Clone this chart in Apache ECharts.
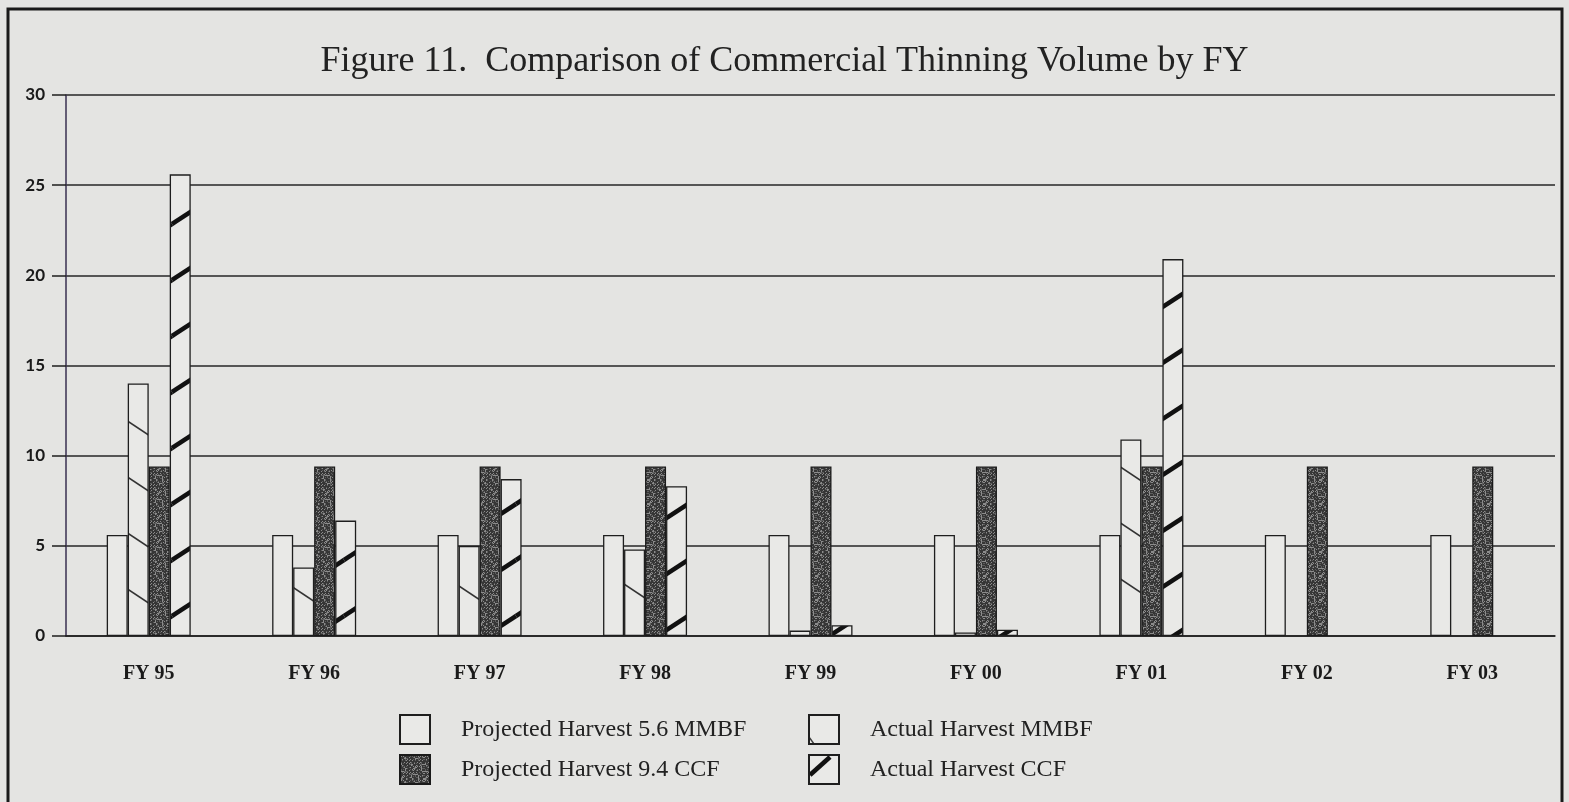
<!DOCTYPE html>
<html>
<head>
<meta charset="utf-8">
<script src="https://cdn.jsdelivr.net/npm/echarts@6/dist/echarts.min.js"></script>
<style>
  html, body { margin: 0; padding: 0; background: #e4e4e2; }
  #app { width: 1569px; height: 802px; }
</style>
</head>
<body>
<div id="app"></div>
<script>
const years = ['FY 95', 'FY 96', 'FY 97', 'FY 98', 'FY 99', 'FY 00', 'FY 01', 'FY 02', 'FY 03']
const projectedMMBF = [5.6, 5.6, 5.6, 5.6, 5.6, 5.6, 5.6, 5.6, 5.6]
const actualMMBF = [14.0, 3.8, 5.0, 4.8, 0.3, 0.2, 10.9, null, null]
const projectedCCF = [9.4, 9.4, 9.4, 9.4, 9.4, 9.4, 9.4, 9.4, 9.4]
const actualCCF = [25.6, 6.4, 8.7, 8.3, 0.6, 0.35, 20.9, null, null]
const yTicks = [0, 5, 10, 15, 20, 25, 30]

const paper = '#e9e9e7'
const ink = '#1e1e1e'

// diagonal hatch tile, dir 1 = "/" , dir -1 = "\"
function hatch(w, h, lw, dir, col) {
  const c = document.createElement('canvas')
  c.width = w
  c.height = h
  const g = c.getContext('2d')
  g.fillStyle = paper
  g.fillRect(0, 0, w, h)
  g.strokeStyle = col
  g.lineWidth = lw
  for (const dx of [-w, 0, w]) {
    for (const dy of [-h, 0, h]) {
      g.beginPath()
      if (dir > 0) {
        g.moveTo(dx, dy + h)
        g.lineTo(dx + w, dy)
      } else {
        g.moveTo(dx, dy)
        g.lineTo(dx + w, dy + h)
      }
      g.stroke()
    }
  }
  return c
}

// legend swatches: one stroke only
function swatch(x1, y1, x2, y2, lw, col) {
  const c = document.createElement('canvas')
  c.width = 30
  c.height = 29
  const g = c.getContext('2d')
  g.fillStyle = paper
  g.fillRect(0, 0, 30, 29)
  g.strokeStyle = col
  g.lineWidth = lw
  g.beginPath()
  g.moveTo(x1, y1)
  g.lineTo(x2, y2)
  g.stroke()
  return c
}

// dark speckled fill
function stipple() {
  const c = document.createElement('canvas')
  c.width = 24
  c.height = 24
  const g = c.getContext('2d')
  g.fillStyle = '#363636'
  g.fillRect(0, 0, 24, 24)
  for (let y = 0; y < 24; y++) {
    for (let x = 0; x < 24; x++) {
      const v = (x * 73 + y * 151 + x * y * 7) % 23
      if (v < 5) g.fillStyle = '#8c8c8c'
      else if (v < 9) g.fillStyle = '#5e5e5e'
      else continue
      g.fillRect(x, y, 1, 1)
    }
  }
  return c
}

const serif = '"Liberation Serif", "Times New Roman", serif'

const barBase = {
  type: 'bar',
  barWidth: 21,
  barGap: '0%',
  animation: false
}

const legendBase = {
  top: 714,
  padding: 0,
  orient: 'vertical',
  itemWidth: 30,
  itemHeight: 29,
  itemGap: 9,
  icon: 'rect',
  textStyle: { fontFamily: serif, fontSize: 24, color: '#222', padding: [0, 0, 0, 26] }
}

const chart = echarts.init(document.getElementById('app'))

chart.setOption({
  backgroundColor: '#e4e4e2',
  title: {
    text: 'Figure 11.  Comparison of Commercial Thinning Volume by FY',
    left: 'center',
    top: 39,
    textStyle: {
      fontFamily: serif,
      fontSize: 36,
      fontWeight: 'normal',
      color: '#222'
    }
  },
  grid: {
    left: 66,
    right: 14,
    top: 95,
    bottom: 166
  },
  xAxis: {
    type: 'category',
    data: years,
    axisLine: { lineStyle: { color: ink, width: 1.5 } },
    axisTick: { alignWithLabel: true, length: 13, lineStyle: { color: ink, width: 1.3 } },
    axisLabel: {
      margin: 28,
      fontFamily: serif,
      fontWeight: 'bold',
      fontSize: 20,
      color: '#1a1a1a'
    }
  },
  yAxis: {
    type: 'value',
    min: yTicks[0],
    max: yTicks[yTicks.length - 1],
    interval: 5,
    axisLine: { show: true, lineStyle: { color: '#3a3050', width: 1.5 } },
    axisTick: { show: true, length: 14, lineStyle: { color: ink, width: 1.5 } },
    axisLabel: {
      margin: 21,
      fontFamily: 'Lato, sans-serif',
      fontWeight: 'bold',
      fontSize: 17,
      color: '#1a1a1a'
    },
    splitLine: { lineStyle: { color: '#262626', width: 1.5 } }
  },
  legend: [
    {
      ...legendBase,
      left: 399,
      data: ['Projected Harvest 5.6 MMBF', 'Projected Harvest 9.4 CCF']
    },
    {
      ...legendBase,
      left: 808,
      data: [
        {
          name: 'Actual Harvest MMBF',
          itemStyle: { color: { image: swatch(0, 22, 5, 29, 1.4, '#3a3a3a'), repeat: 'no-repeat' } }
        },
        {
          name: 'Actual Harvest CCF',
          itemStyle: { color: { image: swatch(1, 20, 21, 2, 4.5, '#111'), repeat: 'no-repeat' } }
        }
      ]
    }
  ],
  graphic: [
    {
      type: 'rect',
      silent: true,
      shape: { x: 8, y: 9, width: 1554, height: 900 },
      style: { fill: 'none', stroke: '#1a1a1a', lineWidth: 3 }
    }
  ],
  series: [
    {
      ...barBase,
      name: 'Projected Harvest 5.6 MMBF',
      data: projectedMMBF,
      itemStyle: { color: paper, borderColor: ink, borderWidth: 1.3 }
    },
    {
      ...barBase,
      name: 'Actual Harvest MMBF',
      data: actualMMBF,
      itemStyle: {
        color: { image: hatch(84, 56, 1.6, -1, '#333'), repeat: 'repeat' },
        borderColor: ink,
        borderWidth: 1.3
      }
    },
    {
      ...barBase,
      name: 'Projected Harvest 9.4 CCF',
      data: projectedCCF,
      itemStyle: {
        color: { image: stipple(), repeat: 'repeat' },
        borderColor: '#1a1a1a',
        borderWidth: 1.3
      }
    },
    {
      ...barBase,
      name: 'Actual Harvest CCF',
      data: actualCCF,
      itemStyle: {
        color: { image: hatch(86, 56, 4.5, 1, '#111'), repeat: 'repeat' },
        borderColor: ink,
        borderWidth: 1.3
      }
    }
  ]
})
</script>
</body>
</html>
